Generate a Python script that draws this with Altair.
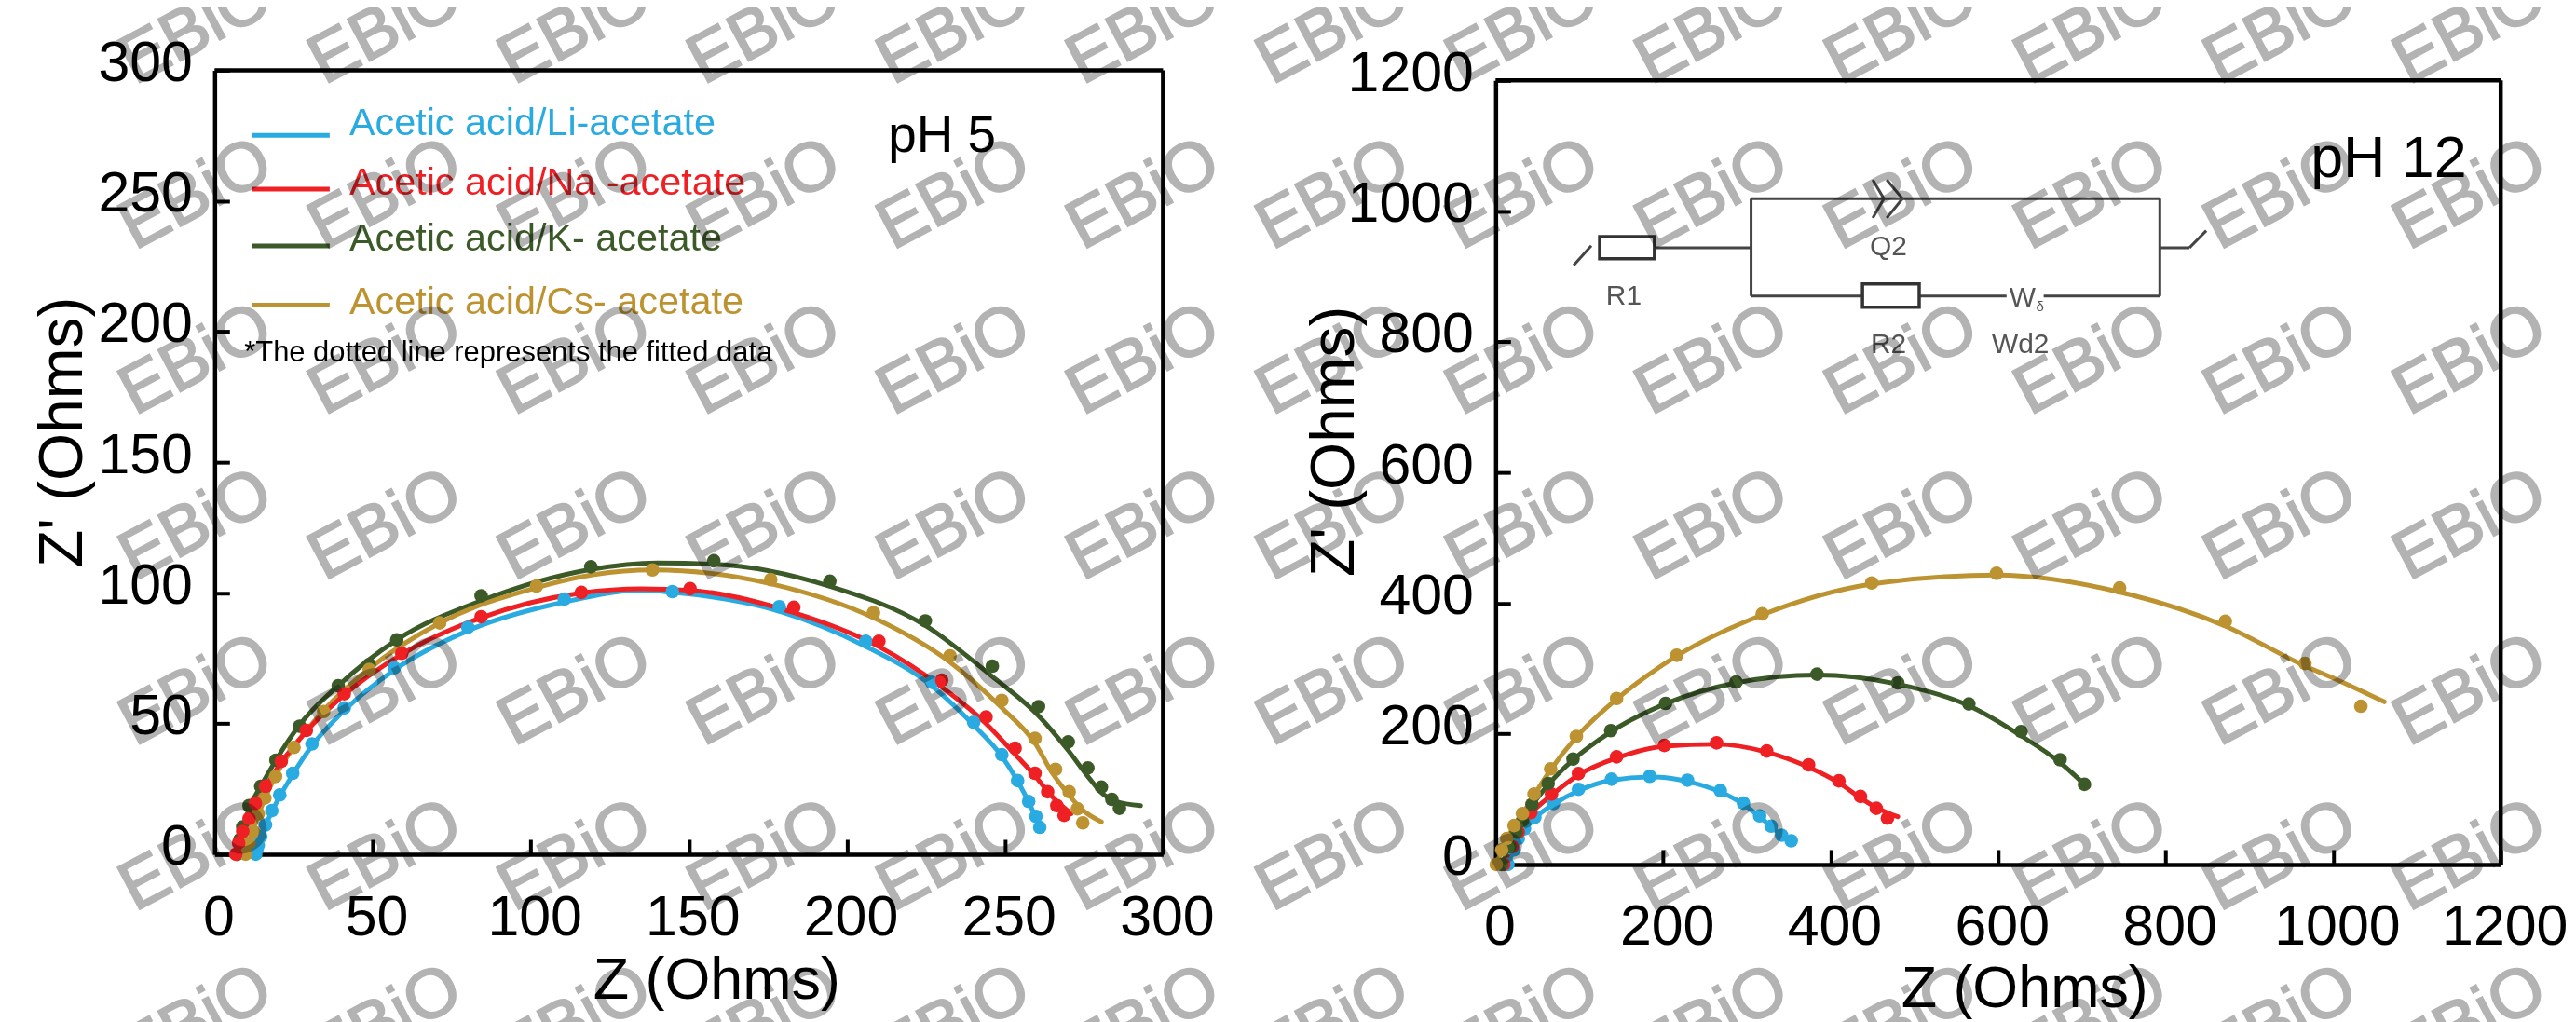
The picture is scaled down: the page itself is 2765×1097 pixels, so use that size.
import altair as alt
import pandas as pd

W, H = 2757, 1089
FONT = "Liberation Sans"
SERIES = ["Li", "K", "Cs", "Na"]
COLORS = ["#29abe2", "#3c5a28", "#bc9330", "#ee2024"]

# ---- pH 5 measured points
L_LI_X = [13, 13.4, 13.8, 14.6, 16.1, 18.1, 20.6, 24.7, 30.8, 41, 56.8, 80.1, 110.6, 144.8, 178.6, 206, 226.8, 240.1, 249, 254, 257.5, 259.8, 261]
L_LI_Y = [0, 2, 3.5, 6.8, 11.2, 16.7, 22.7, 31, 42.2, 56, 71.3, 86.8, 97.6, 100.5, 94.7, 81.5, 65.8, 50.5, 38.1, 28.2, 20.2, 14.5, 10.3]
L_K_X = [7.2, 8, 8.9, 10.9, 14.6, 19.4, 26.9, 39.1, 48.9, 57.6, 84.3, 119, 157.9, 194.6, 224.8, 246, 260.6, 270, 276.2, 280.5, 283.8, 286.2]
L_K_Y = [0, 5.6, 10.5, 18.6, 26, 36, 49, 64.5, 72.6, 82, 98.9, 110, 112.3, 104.5, 89.3, 72, 56.5, 43, 33, 25.7, 21, 17.6]
L_CS_X = [9.8, 10.9, 12.2, 13.8, 15.9, 19.3, 25.1, 34.5, 48.9, 71.2, 101.8, 138.5, 175.9, 208.4, 232.6, 249, 259.5, 266, 270.3, 272.9, 274.6]
L_CS_Y = [0, 4.3, 8.7, 15.5, 21.5, 29.8, 40.9, 54.6, 70.7, 88.5, 102.6, 108.8, 105.1, 92.4, 75.9, 58.9, 44.3, 32.5, 23.9, 17.4, 12]
L_NA_X = [6.7, 7.6, 8.9, 10.9, 12.9, 16.1, 21.1, 29, 41, 59.2, 84.3, 116, 150.4, 183.2, 210.1, 230, 244, 253.2, 259.5, 263.5, 266.4, 268.7]
L_NA_Y = [0, 4.3, 8.7, 13.6, 19.5, 26, 35.6, 47.4, 61.4, 76.9, 90.9, 100.2, 101.6, 94.5, 81.5, 66.6, 52.5, 40.6, 31, 23.9, 18.6, 14.9]

# ---- pH 5 fitted lines
LF_LI_X = [13, 14.5, 18, 24.7, 30.8, 41, 56.8, 80, 110.6, 135, 144.8, 178.6, 206, 226.8, 240, 249, 254, 257.5, 261]
LF_LI_Y = [0, 6, 16, 30.5, 41.5, 55, 70.5, 85.5, 96.5, 101, 100.2, 93, 79.5, 64.5, 49.5, 37.5, 28, 20, 10.5]
LF_K_X = [7, 10.9, 14.6, 19.4, 26.9, 39.1, 57.6, 84.3, 119, 140, 157.9, 194.6, 224.8, 246, 260.6, 270, 276.2, 281, 285, 292.9]
LF_K_Y = [0, 17.5, 26, 36, 49.5, 64.5, 82, 97, 109, 111.5, 111, 102.5, 87.5, 68, 53, 39.7, 29.8, 23, 20.3, 18.6]
LF_CS_X = [9.8, 13.8, 19.3, 25.1, 34.5, 48.9, 71.2, 101.8, 120, 138.5, 175.9, 208.4, 232.6, 249, 259.5, 265, 270, 274, 280.5]
LF_CS_Y = [0, 15, 30, 41, 55, 71, 88.5, 102, 107, 108.8, 103.5, 90.5, 73.5, 56, 42.5, 31, 23, 17.5, 12.4]
LF_NA_X = [6.7, 8.9, 12.9, 16, 21, 29, 41, 59.2, 84.3, 116, 135, 150.4, 183, 210, 230, 244, 253, 259.5, 265, 271]
LF_NA_Y = [0, 8.7, 19, 25.5, 35, 47, 61, 76.5, 90.5, 100, 101.6, 101, 92.5, 79.5, 64, 50, 38.5, 30, 22, 15.5]

# ---- pH 12 measured points
R_LI_X = [14.7, 22, 27, 34.5, 46.8, 69.1, 98.9, 138.4, 184, 229.1, 268.2, 296, 315.2, 329, 341.5, 352.9]
R_LI_Y = [0, 22.3, 39.7, 54.6, 72, 93.3, 115.1, 130.5, 135, 129, 113.1, 93.8, 74.4, 58.6, 44.7, 36.2]
R_NA_X = [9.7, 19.6, 27, 41.9, 66.7, 98.9, 144.4, 201.4, 263.8, 323.7, 373.7, 409.9, 435.6, 454.5, 467.8]
R_NA_Y = [0, 27.3, 49.6, 79.4, 107.7, 139, 164.8, 182.2, 186.1, 173.7, 152.4, 128, 104.2, 85.9, 70.9]
R_K_X = [7.2, 17.1, 24.6, 32, 43.4, 62.7, 92.4, 137.5, 202.9, 287, 383.7, 480.2, 565, 627.3, 673.9, 703]
R_K_Y = [0, 27.3, 49.6, 67, 91.8, 124, 161.3, 204.9, 246.6, 279.4, 291.3, 277.9, 245.7, 203.5, 160.3, 122.6]
R_CS_X = [0.8, 7.2, 13.2, 22, 32, 45.9, 65.7, 96.4, 144.4, 216.2, 318.3, 449, 598, 745, 871.2, 966.3, 1033]
R_CS_Y = [0, 22.3, 39.7, 59.6, 77.9, 107.7, 146.4, 196, 254.1, 320.1, 383.6, 430.8, 445.7, 423.3, 372.2, 307.7, 242.2]

# ---- pH 12 fitted lines
RF_LI_X = [14.7, 27, 46.8, 69.1, 98.9, 138.4, 184, 229.1, 268.2, 296, 315.2, 329, 341.5, 352.9]
RF_LI_Y = [0, 38, 71, 92, 113, 129, 134, 127, 111, 92, 73, 58, 45, 36]
RF_NA_X = [9.7, 27, 41.9, 66.7, 98.9, 144.4, 201.4, 263.8, 323.7, 373.7, 409.9, 435.6, 454.5, 480.2]
RF_NA_Y = [0, 48, 77, 106, 137, 163, 181, 184, 172, 149, 125, 102, 87, 73]
RF_K_X = [7.2, 24.6, 43.4, 62.7, 92.4, 137.5, 202.9, 287, 383.7, 480.2, 565, 627.3, 673.9, 703]
RF_K_Y = [0, 48, 90, 122, 160, 203, 246, 278, 290, 276, 243, 197, 156, 122.6]
RF_CS_X = [0.8, 13.2, 32, 65.7, 96.4, 144.4, 216.2, 318.3, 449, 598, 745, 871, 966, 1004, 1061]
RF_CS_Y = [0, 39, 77, 145, 195, 253, 319, 382, 429, 443, 417, 365, 304, 283, 249]

# ---- legend of the pH 5 panel
LEG_NAMES = ["Li", "Na", "K", "Cs"]
LEG_TEXT = ["Acetic acid/Li-acetate", "Acetic acid/Na -acetate", "Acetic acid/K- acetate", "Acetic acid/Cs- acetate"]
LEG_LINE_Y = [275.1, 254.5, 232.8, 210.1]
LEG_TEXT_Y = [275.1, 252.4, 231, 206.9]
LEG_X0, LEG_X1, LEG_TX = 11.8, 36.4, 42.6

TICKS_L = [0, 50, 100, 150, 200, 250, 300]
TICKS_R = [0, 200, 400, 600, 800, 1000, 1200]

# ---- equivalent-circuit inset (pH 12 panel data coordinates)
WIRE_X1 = [93.2, 191.9, 305, 305, 305, 505.7, 654.3, 793, 793, 828.4, 450.3, 463.6, 467, 485.7]
WIRE_Y1 = [917, 944, 870, 1019, 870, 870, 870, 870, 944, 944, 1048, 1019, 1048, 1019]
WIRE_X2 = [114.2, 305, 305, 793, 438, 610, 793, 793, 828.4, 848.4, 463.6, 450.3, 485.7, 467]
WIRE_Y2 = [947, 944, 1019, 1019, 870, 870, 870, 1019, 944, 970, 1019, 989.5, 1019, 989.5]
RES_X1, RES_X2 = [124.2, 438], [189.6, 505.7]
RES_Y1, RES_Y2 = [927, 853], [961, 888.5]
CIR_TEXT = ["R1", "Q2", "R2", "Wd2", "W"]
CIR_X = [153, 469, 469, 626.6, 629]
CIR_Y = [857, 932.7, 783, 783, 854.5]

# ---- watermark grid
WM_COLS = list(range(1, 14))
WM_ROWS = list(range(7))


def panel(dom, xr, yr, lines, pts, ticks, tx, ty, ytx, yty, xpad, ypad):
    sx = alt.Scale(domain=dom, range=xr, nice=False, zero=False)
    sy = alt.Scale(domain=dom, range=yr, nice=False, zero=False)
    color = alt.Color("s:N", scale=alt.Scale(domain=SERIES, range=COLORS), legend=None)
    common = dict(
        values=ticks, grid=False, domainColor="black", tickColor="black", domainWidth=4.5,
        tickWidth=4, tickSize=alt.ExprRef("-16"), labelFont=FONT, labelFontSize=61, labelColor="black",
        titleFont=FONT, titleFontWeight="normal", titleColor="black",
        titleBaseline="alphabetic", titleAlign="center", format="d",
    )
    xaxis = alt.Axis(title="Z (Ohms)", orient="bottom", offset=-(H - yr[0]), labelPadding=xpad, titleFontSize=63,
                     labelOffset=4, titleX=tx, titleY=ty, titleAngle=0, labelFlush=False, labelOverlap=False, **common)
    yaxis = alt.Axis(title="Z' (Ohms)", orient="left", offset=-xr[0], labelPadding=ypad, titleFontSize=66,
                     labelOffset=-7, titleX=ytx, titleY=yty, titleAngle=270, labelFlush=False, labelOverlap=False, **common)
    ln = alt.Chart(pd.DataFrame(lines)).mark_line(strokeWidth=5, interpolate="monotone", strokeCap="round").encode(
        x=alt.X("x:Q", scale=sx, axis=xaxis), y=alt.Y("y:Q", scale=sy, axis=yaxis), color=color, detail="s:N")
    pt = alt.Chart(pd.DataFrame(pts)).mark_circle(size=215, opacity=1).encode(
        x=alt.X("x:Q", scale=sx, axis=None), y=alt.Y("y:Q", scale=sy, axis=None), color=color, order="i:Q")
    top = dom[1]
    frame = pd.DataFrame({"a": [dom[0], top], "b": [top, top], "c": [top, dom[0]], "d": [top, top]})
    fr = alt.Chart(frame).mark_rule(color="black", strokeWidth=4.5).encode(
        x=alt.X("a:Q", scale=sx, axis=None), x2="b:Q", y=alt.Y("c:Q", scale=sy, axis=None), y2="d:Q")
    return sx, sy, color, [ln, pt, fr]


def rows(pairs):
    out = []
    for s, xs, ys in pairs:
        out += [dict(s=s, x=a, y=b) for a, b in zip(xs, ys)]
    for i, r in enumerate(out):
        r["i"] = i
    return out


L_lines = rows([("Li", LF_LI_X, LF_LI_Y), ("K", LF_K_X, LF_K_Y), ("Cs", LF_CS_X, LF_CS_Y), ("Na", LF_NA_X, LF_NA_Y)])
L_pts = rows([("Li", L_LI_X, L_LI_Y), ("K", L_K_X, L_K_Y), ("Cs", L_CS_X, L_CS_Y), ("Na", L_NA_X, L_NA_Y)])
R_lines = rows([("Li", RF_LI_X, RF_LI_Y), ("Na", RF_NA_X, RF_NA_Y), ("K", RF_K_X, RF_K_Y), ("Cs", RF_CS_X, RF_CS_Y)])
R_pts = rows([("Li", R_LI_X, R_LI_Y), ("Na", R_NA_X, R_NA_Y), ("K", R_K_X, R_K_Y), ("Cs", R_CS_X, R_CS_Y)])

sxL, syL, color, left_layers = panel([0, 300], [223, 1244], [910, 66], L_lines, L_pts, TICKS_L, 763, 155, -143, 455, 55, 40)
sxR, syR, _, right_layers = panel([0, 1200], [1602, 2684], [921, 77], R_lines, R_pts, TICKS_R, 2171, 153, -153, 465, 54, 40)

# legend (inside pH 5 panel)
leg = pd.DataFrame({"s": LEG_NAMES, "t": LEG_TEXT, "ly": LEG_LINE_Y, "ty": LEG_TEXT_Y,
                    "x0": [LEG_X0] * 4, "x1": [LEG_X1] * 4, "tx": [LEG_TX] * 4})
leg_lines = alt.Chart(leg).mark_rule(strokeWidth=5).encode(
    x=alt.X("x0:Q", scale=sxL, axis=None), x2="x1:Q", y=alt.Y("ly:Q", scale=syL, axis=None), color=color)
leg_text = alt.Chart(leg).mark_text(font=FONT, fontSize=41.5, align="left", baseline="alphabetic").encode(
    x=alt.X("tx:Q", scale=sxL, axis=None), y=alt.Y("ty:Q", scale=syL, axis=None), text="t:N", color=color)

notes_L = pd.DataFrame({"t": ["*The dotted line represents the fitted data", "pH 5"], "x": [9.4, 213], "y": [188.4, 268.7], "fs": [31, 55]})
note_a = alt.Chart(notes_L).mark_text(font=FONT, align="left", baseline="alphabetic", color="black").encode(
    x=alt.X("x:Q", scale=sxL, axis=None), y=alt.Y("y:Q", scale=syL, axis=None), text="t:N",
    size=alt.Size("fs:Q", scale=None, legend=None))
notes_R = pd.DataFrame({"t": ["pH 12"], "x": [973], "y": [1052], "fs": [63]})
note_b = alt.Chart(notes_R).mark_text(font=FONT, align="left", baseline="alphabetic", color="black").encode(
    x=alt.X("x:Q", scale=sxR, axis=None), y=alt.Y("y:Q", scale=syR, axis=None), text="t:N",
    size=alt.Size("fs:Q", scale=None, legend=None))

# circuit inset
wires = pd.DataFrame({"x1": WIRE_X1, "x2": WIRE_X2, "y1": WIRE_Y1, "y2": WIRE_Y2})
wire = alt.Chart(wires).mark_rule(color="#444444", strokeWidth=3).encode(
    x=alt.X("x1:Q", scale=sxR, axis=None), x2="x2:Q", y=alt.Y("y1:Q", scale=syR, axis=None), y2="y2:Q")
res = pd.DataFrame({"x1": RES_X1, "x2": RES_X2, "y1": RES_Y1, "y2": RES_Y2})
resistor = alt.Chart(res).mark_rect(fill="white", stroke="#333333", strokeWidth=3.5).encode(
    x=alt.X("x1:Q", scale=sxR, axis=None), x2="x2:Q", y=alt.Y("y1:Q", scale=syR, axis=None), y2="y2:Q")
cir = pd.DataFrame({"t": CIR_TEXT, "x": CIR_X, "y": CIR_Y})
cir_text = alt.Chart(cir).mark_text(font=FONT, fontSize=30, align="center", baseline="alphabetic", color="#555555").encode(
    x=alt.X("x:Q", scale=sxR, axis=None), y=alt.Y("y:Q", scale=syR, axis=None), text="t:N")
delta = pd.DataFrame({"t": ["δ"], "x": [650], "y": [847]})
cir_delta = alt.Chart(delta).mark_text(font=FONT, fontSize=15, align="center", baseline="alphabetic", color="#555555").encode(
    x=alt.X("x:Q", scale=sxR, axis=None), y=alt.Y("y:Q", scale=syR, axis=None), text="t:N")

# watermark
wm = pd.DataFrame([dict(c=c, r=r, t="EBiO") for c in WM_COLS for r in WM_ROWS])
mark = alt.Chart(wm).mark_text(font=FONT, fontSize=74, angle=332, color="#b3b3b3", stroke="#b3b3b3", strokeWidth=2,
                               blend="multiply", align="center", baseline="middle").encode(
    x=alt.X("c:Q", scale=alt.Scale(domain=[0, 13], range=[-1, 2651], nice=False, zero=False), axis=None),
    y=alt.Y("r:Q", scale=alt.Scale(domain=[0, 6], range=[22, 1090], nice=False, zero=False), axis=None),
    text="t:N")

chart = alt.layer(
    *left_layers, leg_lines, leg_text, note_a,
    *right_layers, wire, resistor, cir_text, cir_delta, note_b,
    mark,
).resolve_scale(x="independent", y="independent").properties(
    width=W, height=H, padding=0, autosize=alt.AutoSizeParams(type="none", contains="content"),
    background="white",
).configure_view(stroke=None)

chart.save("out.html", embed_options={"renderer": "svg", "actions": False})
